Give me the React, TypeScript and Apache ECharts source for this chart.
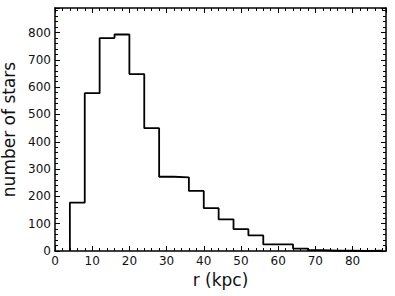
import React, { useEffect, useRef } from 'react';
import * as echarts from 'echarts';

const binEdges = [4, 8, 12, 16, 20, 24, 28, 32, 36, 40, 44, 48, 52, 56, 60, 64, 68, 72, 76, 80, 84, 88];
const counts = [177, 578, 780, 793, 648, 450, 272, 270, 220, 157, 116, 80, 57, 24, 24, 9, 3, 1, 1, 0, 1];
const xRange = [0, 89];
const yRange = [0, 890];
const xLabel = 'r (kpc)';
const yLabel = 'number of stars';

const FONT = 'DejaVu Sans';

function stepPoints(): number[][] {
  const pts: number[][] = [[binEdges[0], 0]];
  for (let i = 0; i < counts.length; i++) {
    pts.push([binEdges[i], counts[i]]);
    pts.push([binEdges[i + 1], counts[i]]);
  }
  pts.push([binEdges[binEdges.length - 1], 0]);
  return pts;
}

function makeAxis(kind: 'x' | 'y', pos: string, major: boolean, withLabels: boolean, name?: string) {
  const range = kind === 'x' ? xRange : yRange;
  const majorInt = kind === 'x' ? 10 : 100;
  const minorInt = kind === 'x' ? 2 : 20;
  const ax: any = {
    type: 'value',
    position: pos,
    min: range[0],
    max: range[1],
    interval: major ? majorInt : minorInt,
    splitLine: { show: false },
    axisLine: { show: major, onZero: false, lineStyle: { color: '#000', width: 1.5 } },
    axisTick: { show: true, inside: true, length: major ? 5 : 3, lineStyle: { color: '#000', width: 1 } },
    axisLabel: {
      show: withLabels,
      color: '#111',
      fontSize: 12,
      fontFamily: FONT,
      margin: 4,
      formatter: (v: number) => (v % majorInt === 0 ? String(v) : ''),
    },
  };
  if (name) {
    ax.name = name;
    ax.nameLocation = 'middle';
    ax.nameGap = kind === 'x' ? 20 : 31;
    ax.nameTextStyle = { color: '#111', fontSize: 17, fontFamily: FONT };
  }
  return ax;
}

export default function App() {
  const ref = useRef<HTMLDivElement>(null);
  useEffect(() => {
    if (!ref.current) return;
    const chart = echarts.init(ref.current, undefined, { renderer: 'svg' });
    chart.setOption({
      animation: false,
      backgroundColor: '#fff',
      grid: { left: 55, right: 9, top: 8, bottom: 45, containLabel: false, outerBoundsMode: 'none' },
      xAxis: [
        makeAxis('x', 'bottom', true, true, xLabel),
        makeAxis('x', 'bottom', false, false),
        makeAxis('x', 'top', true, false),
        makeAxis('x', 'top', false, false),
      ],
      yAxis: [
        makeAxis('y', 'left', true, true, yLabel),
        makeAxis('y', 'left', false, false),
        makeAxis('y', 'right', true, false),
        makeAxis('y', 'right', false, false),
      ],
      series: [
        {
          type: 'line',
          xAxisIndex: 0,
          yAxisIndex: 0,
          data: stepPoints(),
          symbol: 'none',
          showSymbol: false,
          lineStyle: { color: '#000', width: 1.8 },
          z: 5,
        },
      ],
    });
    return () => chart.dispose();
  }, []);
  return (
    <div
      ref={ref}
      style={{ position: 'fixed', left: 0, top: 0, width: 395, height: 296, background: '#fff' }}
    />
  );
}
